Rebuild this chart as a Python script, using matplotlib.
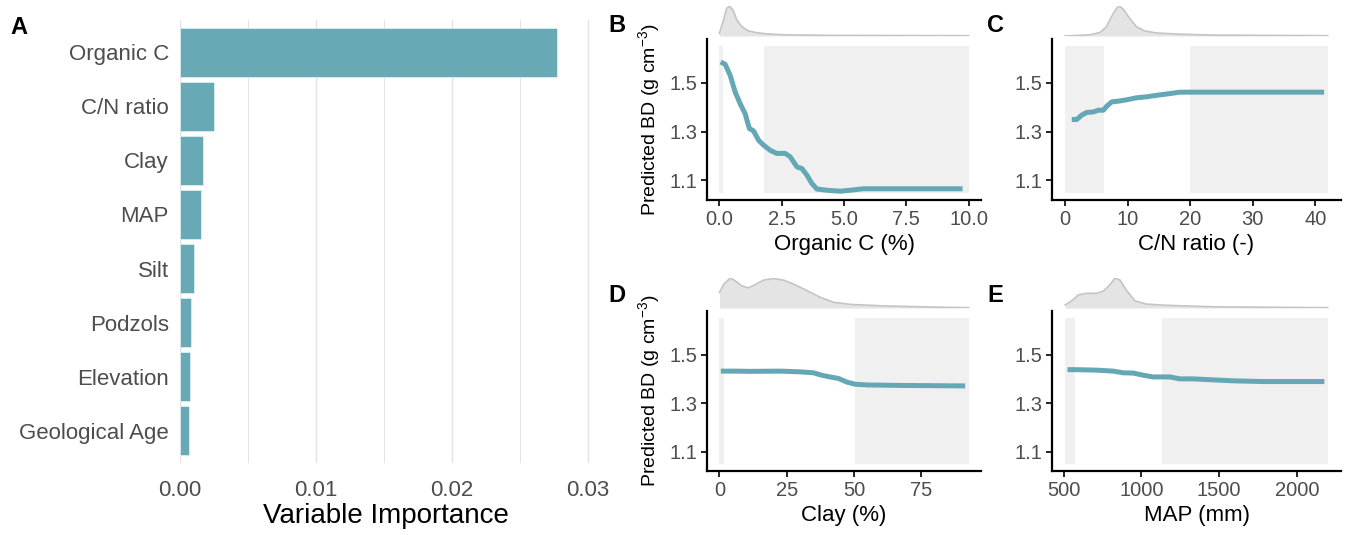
import matplotlib
matplotlib.use("Agg")
import matplotlib.pyplot as plt
import numpy as np

plt.rcParams['font.family'] = ['Liberation Sans', 'DejaVu Sans']
plt.rcParams['mathtext.fontset'] = 'custom'
plt.rcParams['mathtext.rm'] = 'Liberation Sans'
plt.rcParams['mathtext.it'] = 'Liberation Sans:italic'

# ---------------- Data ----------------
variables = ["Organic C", "C/N ratio", "Clay", "MAP", "Silt", "Podzols", "Elevation", "Geological Age"]
importance = [0.0277, 0.0025, 0.0017, 0.00155, 0.00103, 0.00081, 0.00075, 0.00068]

# Panel B: Organic C
oc_x = [0.05, 0.23, 0.43, 0.63, 0.83, 1.03, 1.20, 1.37, 1.57, 1.77, 2.03, 2.30, 2.64, 2.84, 3.11, 3.31, 3.51, 3.71, 3.91, 4.31, 4.85, 5.25, 5.78, 7.26, 9.76]
oc_y = [1.586, 1.576, 1.531, 1.463, 1.415, 1.374, 1.313, 1.303, 1.265, 1.245, 1.224, 1.211, 1.211, 1.197, 1.156, 1.149, 1.122, 1.088, 1.065, 1.060, 1.056, 1.060, 1.066, 1.066, 1.066]
oc_rects = [(0.0, 0.15), (1.8, 10.0)]
oc_dens_x = [0, 0.16, 0.29, 0.40, 0.54, 0.70, 0.90, 1.16, 1.5, 1.9, 2.57, 4.58, 10.0]
oc_dens_y = [0.09, 0.53, 0.92, 1.0, 0.87, 0.53, 0.31, 0.17, 0.11, 0.07, 0.04, 0.02, 0.01]

# Panel C: C/N ratio
cn_x = [1.06, 1.86, 2.65, 3.45, 4.5, 5.3, 6.1, 6.63, 7.43, 8.75, 10.08, 11.4, 13.0, 14.6, 16.7, 18.3, 41.4]
cn_y = [1.350, 1.350, 1.368, 1.379, 1.381, 1.388, 1.388, 1.404, 1.422, 1.426, 1.432, 1.439, 1.443, 1.449, 1.456, 1.462, 1.462]
cn_rects = [(0.0, 6.26), (19.95, 42.0)]
cn_dens_x = [0, 4.0, 5.6, 6.6, 7.4, 8.2, 8.65, 9.3, 10.3, 11.4, 12.7, 14.6, 18.3, 23.6, 42.0]
cn_dens_y = [0.0, 0.04, 0.12, 0.31, 0.64, 0.92, 1.0, 0.89, 0.59, 0.31, 0.17, 0.10, 0.06, 0.03, 0.01]

# Panel D: Clay
clay_x = [0.5, 5.2, 11.4, 22.6, 30, 35, 38, 41.1, 44.2, 47.3, 50.4, 54.8, 67.2, 91.3]
clay_y = [1.432, 1.432, 1.431, 1.432, 1.429, 1.425, 1.415, 1.408, 1.402, 1.387, 1.378, 1.375, 1.373, 1.371]
clay_rects = [(0.0, 1.86), (50.4, 92.6)]
clay_dens_x = [0, 1.7, 4.0, 5.8, 8.3, 10.8, 13.3, 16.4, 20.1, 23.8, 27.5, 32.5, 37.4, 42.4, 48.6, 61, 79.6, 92.6]
clay_dens_y = [0.52, 0.8, 1.0, 0.91, 0.74, 0.67, 0.78, 0.93, 0.98, 0.93, 0.8, 0.58, 0.36, 0.19, 0.12, 0.07, 0.03, 0.01]

# Panel E: MAP
map_x = [525.6, 585, 713, 820, 884, 948, 1012, 1076, 1183, 1247, 1332, 1460, 1588, 1780, 2175]
map_y = [1.438, 1.438, 1.436, 1.432, 1.425, 1.424, 1.415, 1.408, 1.408, 1.400, 1.400, 1.396, 1.392, 1.389, 1.389]
map_rects = [(510.7, 574.7), (1133.7, 2198.0)]
map_dens_x = [510.7, 553, 596, 649, 713, 756, 799, 831, 863, 905, 959, 1033, 1161, 1460, 2198]
map_dens_y = [0.1, 0.24, 0.44, 0.49, 0.49, 0.56, 0.78, 1.0, 0.93, 0.58, 0.24, 0.13, 0.09, 0.04, 0.01]

# ---------------- Figure ----------------
W, H = 1346, 535
fig = plt.figure(figsize=(W / 100, H / 100), dpi=100)

def px_axes(left, top, right, bottom):
    return fig.add_axes([left / W, 1 - bottom / H, (right - left) / W, (bottom - top) / H])

BAR_COL = '#68a9b6'
LINE_COL = '#65a8b5'
TICK_COL = '#4d4d4d'

# ---- Panel A ----
axA = px_axes(180, 20, 592, 463)
ypos = np.arange(len(variables))
axA.barh(ypos, importance, height=0.9, color=BAR_COL, edgecolor='#dceef2', linewidth=0.6, zorder=2)
axA.set_ylim(len(variables) - 1 + 0.6, -0.6)
axA.set_xlim(0, 0.0303)
axA.set_yticks(ypos)
axA.set_yticklabels(variables, fontsize=16, color=TICK_COL)
axA.set_xticks([0, 0.01, 0.02, 0.03])
axA.set_xticklabels(["0.00", "0.01", "0.02", "0.03"], fontsize=16, color=TICK_COL)
axA.set_xticks([0.005, 0.015, 0.025], minor=True)
axA.grid(axis='x', which='major', color='#e3e3e3', linewidth=1.0, zorder=0)
axA.grid(axis='x', which='minor', color='#e3e3e3', linewidth=0.7, zorder=0)
for s in axA.spines.values():
    s.set_visible(False)
axA.tick_params(axis='both', which='both', length=0, pad=8)
axA.tick_params(axis='x', pad=12)
axA.set_xlabel("Variable Importance", fontsize=20, color='black', labelpad=2)
fig.text(10 / W, 1 - 28 / H, "A", fontsize=17, fontweight='bold', va='center', ha='left')

# ---- Panels B-E ----
panels = [
    dict(box=(707, 39, 981, 200), x=oc_x, y=oc_y, rects=oc_rects, dx=oc_dens_x, dy=oc_dens_y,
         xlim=(-0.5, 10.5), xt=[0, 2.5, 5, 7.5, 10], xtl=["0.0", "2.5", "5.0", "7.5", "10.0"],
         xlabel="Organic C (%)", ylab=True, letter="B", lpos=(608, 25)),
    dict(box=(1052, 39, 1341, 200), x=cn_x, y=cn_y, rects=cn_rects, dx=cn_dens_x, dy=cn_dens_y,
         xlim=(-2.1, 44.1), xt=[0, 10, 20, 30, 40], xtl=["0", "10", "20", "30", "40"],
         xlabel="C/N ratio (-)", ylab=False, letter="C", lpos=(987, 25)),
    dict(box=(707, 311, 981, 471), x=clay_x, y=clay_y, rects=clay_rects, dx=clay_dens_x, dy=clay_dens_y,
         xlim=(-4.63, 97.2), xt=[0, 25, 50, 75], xtl=["0", "25", "50", "75"],
         xlabel="Clay (%)", ylab=True, letter="D", lpos=(608, 295)),
    dict(box=(1052, 311, 1341, 471), x=map_x, y=map_y, rects=map_rects, dx=map_dens_x, dy=map_dens_y,
         xlim=(426, 2282), xt=[500, 1000, 1500, 2000], xtl=["500", "1000", "1500", "2000"],
         xlabel="MAP (mm)", ylab=False, letter="E", lpos=(987, 295)),
]

for p in panels:
    l, t, r, b = p['box']
    ax = px_axes(l, t, r, b)
    ax.set_xlim(*p['xlim'])
    ax.set_ylim(1.02, 1.68)
    for (x0, x1) in p['rects']:
        ax.fill_between([x0, x1], 1.05, 1.65, color='#f0f0f0', linewidth=0, zorder=0)
    ax.plot(p['x'], p['y'], color=LINE_COL, linewidth=3.6, solid_capstyle='butt', zorder=3)
    ax.set_yticks([1.1, 1.3, 1.5])
    ax.set_yticklabels(["1.1", "1.3", "1.5"], fontsize=14.5, color=TICK_COL)
    ax.set_xticks(p['xt'])
    ax.set_xticklabels(p['xtl'], fontsize=14.5, color=TICK_COL)
    for s in ['top', 'right']:
        ax.spines[s].set_visible(False)
    for s in ['left', 'bottom']:
        ax.spines[s].set_linewidth(1.6)
        ax.spines[s].set_color('black')
    ax.tick_params(axis='both', length=4, width=1.2, color='black', pad=3)
    ax.set_xlabel(p['xlabel'], fontsize=16, color='black', labelpad=4)
    if p['ylab']:
        ax.set_ylabel("Predicted BD (g cm$^{-3}$)", fontsize=14, color='black', labelpad=5)
    # density strip
    axd = px_axes(l, t - 33, r, t - 3)
    axd.set_xlim(*p['xlim'])
    axd.set_ylim(0, 1.0)
    axd.fill_between(p['dx'], 0, p['dy'], color='#e4e4e4', linewidth=0, zorder=1)
    axd.plot(p['dx'], p['dy'], color='#c4c4c4', linewidth=1.2, zorder=2)
    axd.axis('off')
    fig.text(p['lpos'][0] / W, 1 - p['lpos'][1] / H, p['letter'], fontsize=17, fontweight='bold',
             va='center', ha='left')

fig.savefig("out.png", dpi=100)
